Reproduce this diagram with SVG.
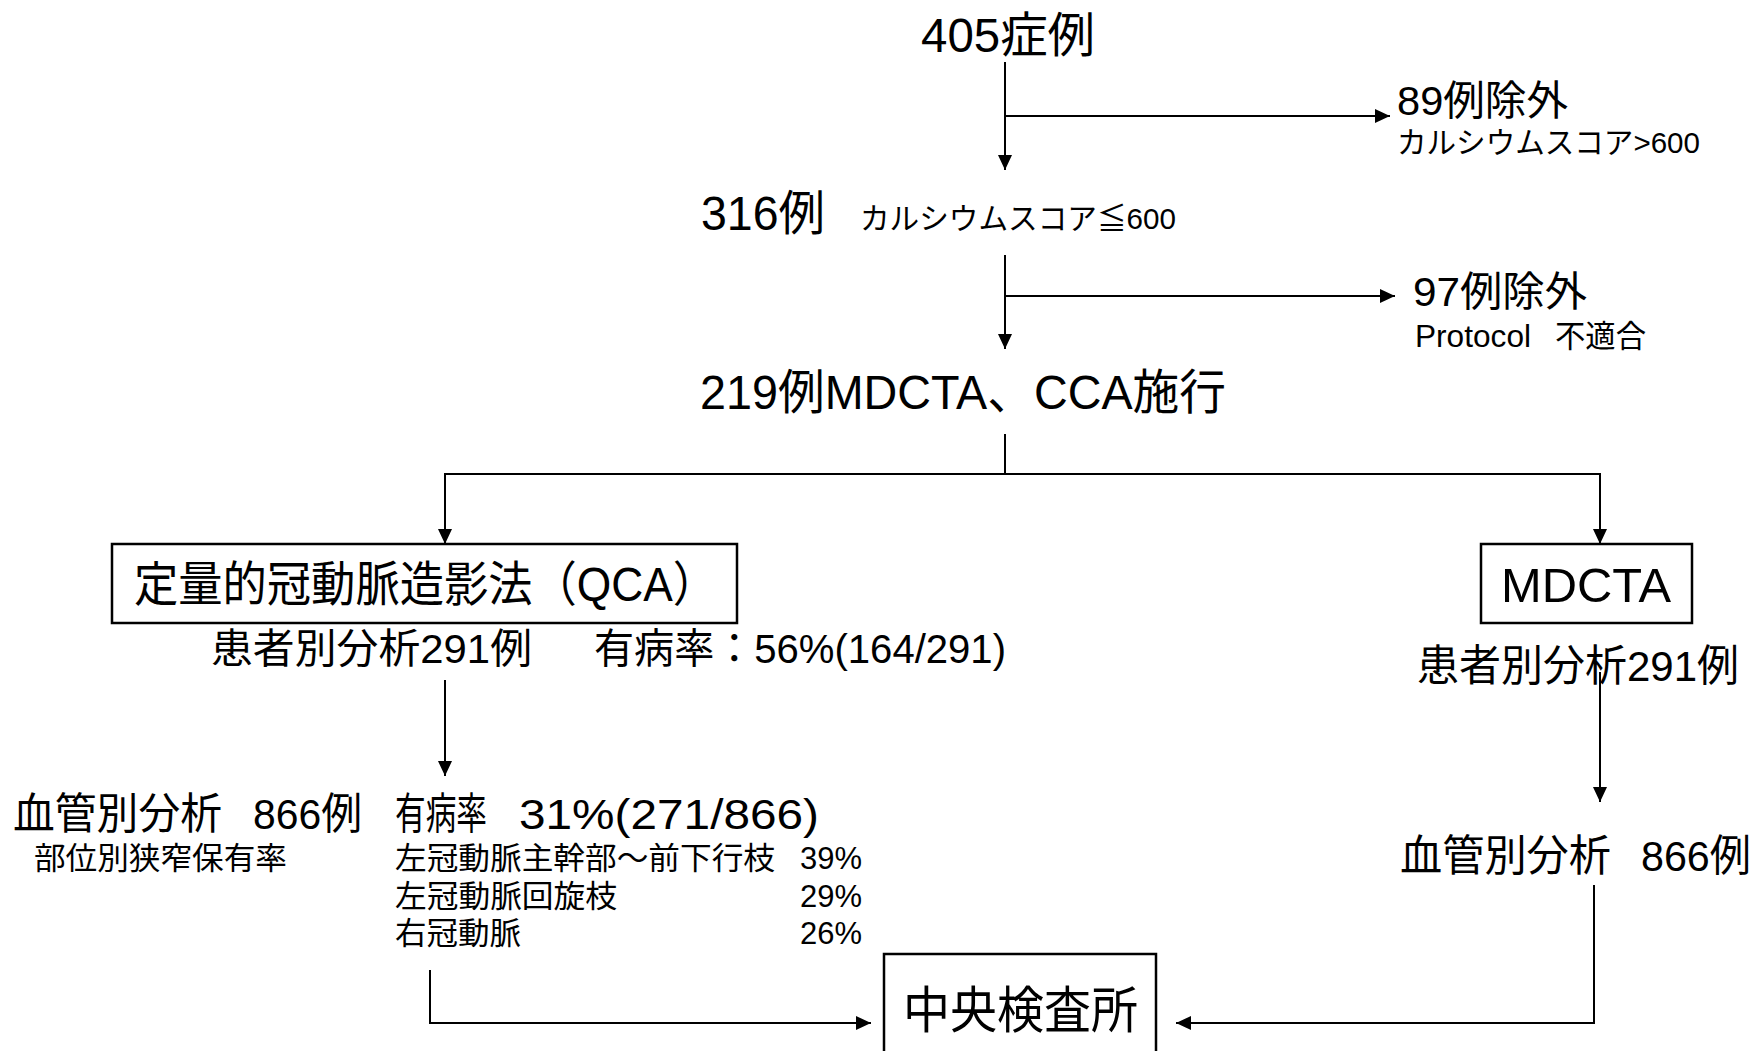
<svg xmlns="http://www.w3.org/2000/svg" width="1756" height="1051" viewBox="0 0 1756 1051">
<defs>
<marker id="arr" markerUnits="userSpaceOnUse" markerWidth="16" markerHeight="14" refX="15" refY="7" orient="auto">
<path d="M0,0 L15,7 L0,14 Z" fill="#000"/>
</marker>
<style>
text{font-family:"Liberation Sans","Noto Sans CJK JP",sans-serif;fill:#000}
.l{stroke:#000;stroke-width:2;fill:none}
.a{marker-end:url(#arr)}
.box{fill:#fff;stroke:#000;stroke-width:2.5}
.f44{font-size:48px}
.f40{font-size:43px}
.f38{font-size:41px}
.f30{font-size:31px}
.f28{font-size:30px}
</style>
</defs>
<rect width="1756" height="1051" fill="#fff"/>
<g id="connectors">
<line class="l a" x1="1005" y1="62" x2="1005" y2="170"/>
<line class="l a" x1="1005" y1="116" x2="1390" y2="116"/>
<line class="l a" x1="1005" y1="255" x2="1005" y2="349"/>
<line class="l a" x1="1005" y1="296" x2="1395" y2="296"/>
<line class="l" x1="1005" y1="434" x2="1005" y2="474"/>
<line class="l" x1="444" y1="474" x2="1601" y2="474"/>
<line class="l a" x1="445" y1="474" x2="445" y2="544"/>
<line class="l a" x1="1600" y1="474" x2="1600" y2="544"/>
<line class="l a" x1="445" y1="680" x2="445" y2="776"/>
<line class="l a" x1="1600" y1="672" x2="1600" y2="802"/>
<polyline class="l a" points="430,970 430,1023 871,1023"/>
<polyline class="l a" points="1594,885 1594,1023 1176,1023"/>
</g>
<g id="n405"><text class="f44" x="921" y="52" textLength="174" lengthAdjust="spacingAndGlyphs">405症例</text></g>
<g id="n89">
<text class="f38" x="1397" y="115" textLength="171" lengthAdjust="spacingAndGlyphs">89例除外</text>
<text class="f28" x="1397" y="153" textLength="303" lengthAdjust="spacingAndGlyphs">カルシウムスコア&gt;600</text>
</g>
<g id="n316">
<text class="f44" x="701" y="230" textLength="124" lengthAdjust="spacingAndGlyphs">316例</text>
<text class="f28" x="860" y="229" textLength="316" lengthAdjust="spacingAndGlyphs">カルシウムスコア≦600</text>
</g>
<g id="n97">
<text class="f38" x="1413" y="306" textLength="174" lengthAdjust="spacingAndGlyphs">97例除外</text>
<text class="f30" x="1415" y="347"><tspan textLength="116" lengthAdjust="spacingAndGlyphs">Protocol</tspan><tspan x="1555" textLength="91" lengthAdjust="spacingAndGlyphs">不適合</tspan></text>
</g>
<g id="n219"><text class="f44" x="700" y="409" textLength="526" lengthAdjust="spacingAndGlyphs">219例MDCTA、CCA施行</text></g>
<g id="nQCA">
<rect class="box" x="112" y="544" width="625" height="79"/>
<text class="f44" x="134" y="601" textLength="583" lengthAdjust="spacingAndGlyphs">定量的冠動脈造影法（QCA）</text>
<text class="f38" x="211" y="663" textLength="321" lengthAdjust="spacingAndGlyphs">患者別分析291例</text>
<text class="f38" x="594" y="663" textLength="412" lengthAdjust="spacingAndGlyphs">有病率：56%(164/291)</text>
</g>
<g id="nMDCTA">
<rect class="box" x="1481" y="544" width="211" height="79"/>
<text x="1501" y="602" font-size="48" textLength="170" lengthAdjust="spacingAndGlyphs">MDCTA</text>
<text class="f40" x="1417" y="681" textLength="322" lengthAdjust="spacingAndGlyphs">患者別分析291例</text>
</g>
<g id="nVesselL">
<text class="f40" y="829"><tspan x="13" textLength="209" lengthAdjust="spacingAndGlyphs">血管別分析</tspan><tspan x="253" textLength="109" lengthAdjust="spacingAndGlyphs">866例</tspan></text>
<text class="f30" x="34" y="869" textLength="253" lengthAdjust="spacingAndGlyphs">部位別狭窄保有率</text>
</g>
<g id="nPrev">
<text class="f40" y="829"><tspan x="395" textLength="92" lengthAdjust="spacingAndGlyphs">有病率</tspan><tspan x="519" textLength="300" lengthAdjust="spacingAndGlyphs">31%(271/866)</tspan></text>
<text class="f30" y="869"><tspan x="395" textLength="380" lengthAdjust="spacingAndGlyphs">左冠動脈主幹部～前下行枝</tspan><tspan x="800" textLength="62" lengthAdjust="spacingAndGlyphs">39%</tspan></text>
<text class="f30" y="907"><tspan x="395" textLength="222" lengthAdjust="spacingAndGlyphs">左冠動脈回旋枝</tspan><tspan x="800" textLength="62" lengthAdjust="spacingAndGlyphs">29%</tspan></text>
<text class="f30" y="944"><tspan x="395" textLength="126" lengthAdjust="spacingAndGlyphs">右冠動脈</tspan><tspan x="800" textLength="62" lengthAdjust="spacingAndGlyphs">26%</tspan></text>
</g>
<g id="nVesselR">
<text class="f40" y="871"><tspan x="1400" textLength="211" lengthAdjust="spacingAndGlyphs">血管別分析</tspan><tspan x="1641" textLength="110" lengthAdjust="spacingAndGlyphs">866例</tspan></text>
</g>
<g id="nCenter">
<rect class="box" x="884" y="954" width="272" height="110"/>
<text x="903" y="1028" font-size="50" textLength="235" lengthAdjust="spacingAndGlyphs">中央検査所</text>
</g>
</svg>
